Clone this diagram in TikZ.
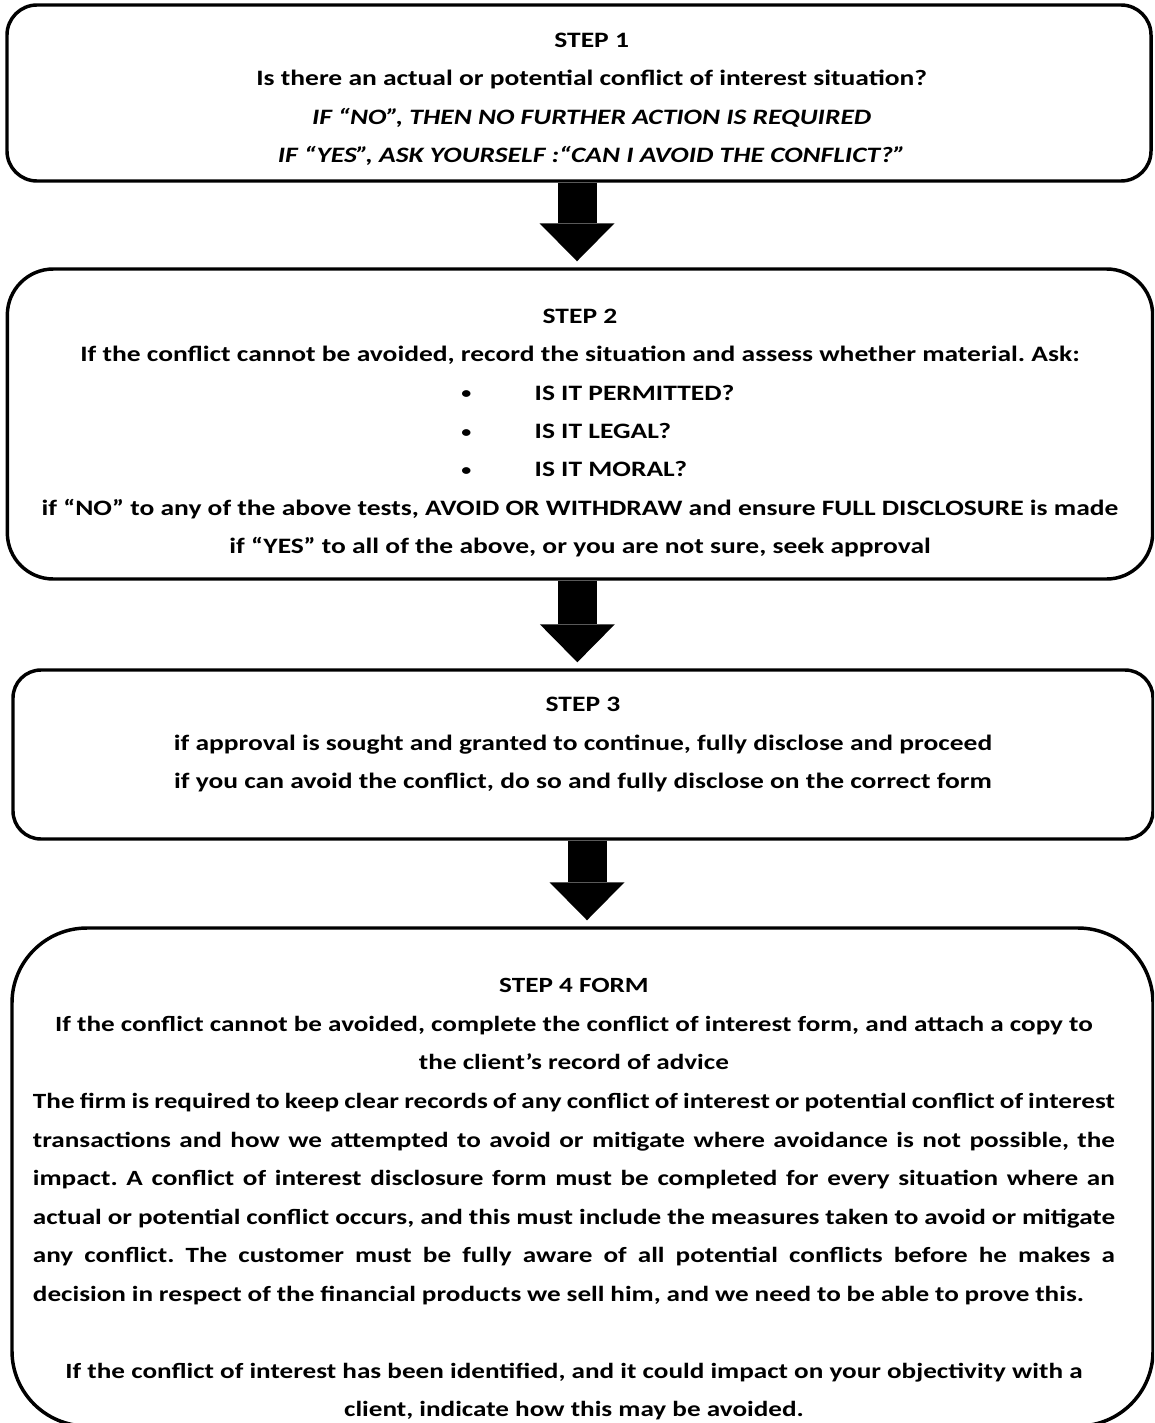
\documentclass[tikz,border=0pt]{standalone}
\usepackage{fontspec}
\setmainfont{Carlito}[FakeStretch=1.25]
\usetikzlibrary{arrows.meta,positioning}
\setlength{\parindent}{0pt}
\frenchspacing

\newcommand{\askItem}[1]{\hspace*{42pt}\makebox[220pt][l]{\makebox[55pt][l]{\fontsize{12}{12}\selectfont\raisebox{1pt}{\textbullet}}#1}}
\newcommand{\fullLine}[1]{\leavevmode\hbox to \hsize{\spaceskip=4.4pt plus 6pt minus 2.6pt\relax #1}}

\begin{document}
\begin{tikzpicture}
[stepBox/.style={draw,line width=2.6pt,inner sep=0pt},%
  stepText/.style={align=center,inner sep=0pt,
    font=\fontsize{16.5}{28.7}\selectfont\bfseries},
  formText/.style={align=flush center,inner sep=0pt,
    font=\fontsize{16.3}{28.9}\selectfont\bfseries},
  bigArrow/.style={line width=29.25pt,shorten >=4.5pt,
    -{Triangle[width=56.25pt,length=28.5pt,line width=0pt]}},
  x=0.75pt,y=-0.75pt]
\path[use as bounding box,fill=white] (0,0) rectangle (1154,1423);
\clip (0,0) rectangle (1154,1423);
%% boxes
\foreach \nodename/\x/\y/\w/\h/\r in {
  step1/579/93/858pt/132pt/22.5pt,
  step2/580/424/859pt/232.5pt/34.5pt,
  step3/583/754.5/855pt/126.75pt/21pt,
  step4/582.5/1177/855.75pt/373.5pt/56.25pt}
{
  \node (\nodename) at (\x,\y) [stepBox,minimum width=\w,minimum height=\h,
    rounded corners=\r] {};
}
%% texts
\node (text1) [stepText,below=22.3pt of step1.north,xshift=9.5pt] {STEP 1\\
  Is there an actual or potential conflict of interest situation?\\
  \textit{IF “NO”, THEN NO FURTHER ACTION IS REQUIRED}\\
  \textit{IF “YES”, ASK YOURSELF :“CAN I AVOID THE CONFLICT?”}};
\node (text2) [stepText,below=31.3pt of step2.north] {STEP 2\\
  If the conflict cannot be avoided, record the situation and assess whether material. Ask:\\
  \askItem{IS IT PERMITTED?}\\
  \askItem{IS IT LEGAL?}\\
  \askItem{IS IT MORAL?}\\
  if “NO” to any of the above tests, AVOID OR WITHDRAW and ensure FULL DISCLOSURE is made\\
  if “YES” to all of the above, or you are not sure, seek approval};
\node (text3) [stepText,below=21.6pt of step3.north] {STEP 3\\
  if approval is sought and granted to continue, fully disclose and proceed\\
  if you can avoid the conflict, do so and fully disclose on the correct form};
\node (text4) [formText,text width=811.5pt,below=39.1pt of step4.north,xshift=-6.4pt] {STEP 4 FORM\\
  If the conflict cannot be avoided, complete the conflict of interest form, and attach a copy to\\
  the client’s record of advice\\
  \fullLine{The firm is required to keep clear records of any conflict of interest or potential conflict of interest}\\
  \fullLine{transactions and how we attempted to avoid or mitigate where avoidance is not possible, the}\\
  \fullLine{impact. A conflict of interest disclosure form must be completed for every situation where an}\\
  \fullLine{actual or potential conflict occurs, and this must include the measures taken to avoid or mitigate}\\
  \fullLine{any conflict. The customer must be fully aware of all potential conflicts before he makes a}\\
  \fullLine{decision in respect of the financial products we sell him, and we need to be able to prove this.\hfil}\\[29pt]
  If the conflict of interest has been identified, and it could impact on your objectivity with a\\
  client, indicate how this may be avoided.};
%% arrows
\path
\foreach \startnode/\endnode/\dx in {step1/step2/-1.5pt, step2/step3/-2pt, step3/step4/3pt}
{
  ([xshift=\dx]\startnode.south) edge[bigArrow] ([xshift=\dx]\startnode.south |- \endnode.north)
};
\end{tikzpicture}
\end{document}
